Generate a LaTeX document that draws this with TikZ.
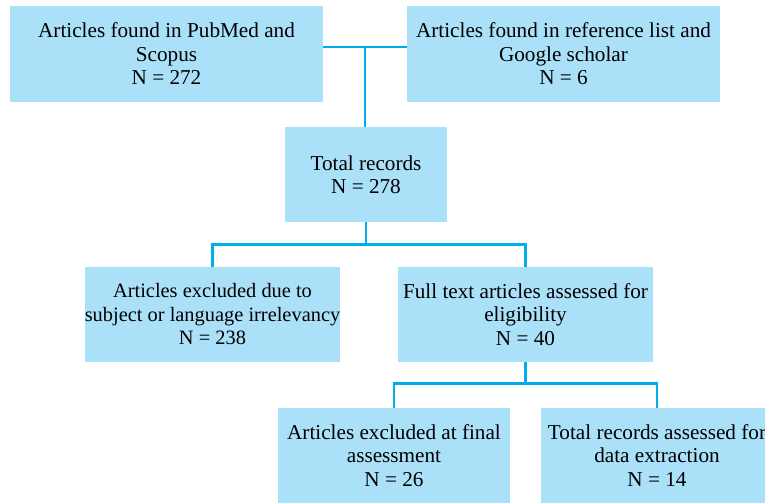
\documentclass[tikz,border=0pt]{standalone}
\usepackage{fontspec}
\setmainfont{Liberation Serif}
\usepackage{xcolor}
\usepackage{tikz}
\definecolor{boxblue}{RGB}{171,224,249}
\definecolor{lineblue}{RGB}{0,174,239}

\begin{document}
\begin{tikzpicture}[x=1pt, y=-1pt]
    \tikzstyle{record} = [rectangle, inner sep=0pt, text centered, align=center, fill=boxblue, minimum height=95pt, font=\fontsize{21.2}{23.5}\selectfont]
    \tikzstyle{link} = [draw=lineblue, line width=2.6pt]
    \useasboundingbox (0,0) rectangle (765,503);

    % Search sources
    \node [record, minimum width=313pt] (pubmed) at (166.5,54) {Articles found in PubMed and\\Scopus\\N = 272};
    \node [record, minimum width=313pt] (refs) at (563.5,54) {Articles found in reference list and\\Google scholar\\N = 6};

    % Pooled records
    \node [record, minimum width=162pt] (total) at (366,174.5) {Total records\\N = 278};

    % Screening
    \node [record, minimum width=255pt, font=\fontsize{20.4}{23.5}\selectfont] (excluded) at (212.5,314.5) {Articles excluded due to\\subject or language irrelevancy\\N = 238};
    \node [record, minimum width=255pt] (fulltext) at (525.5,314.5) {Full text articles assessed for\\eligibility\\N = 40};

    % Final assessment
    \node [record, minimum width=232pt] (final_excl) at (394,455.5) {Articles excluded at final\\assessment\\N = 26};
    \node [record, minimum width=232pt] (extraction) at (657,455.5) {Total records assessed for\\data extraction\\N = 14};

    % Lines
    \coordinate (join) at (365,47);
    \draw [link] ([yshift=7pt]pubmed.east) -- ([yshift=7pt]refs.west);
    \draw [link] (join) -- (join |- total.north);
    \draw [link] (total.south) -- ++(0,22) coordinate (split);
    \draw [link] (excluded.north) |- (split) -| (fulltext.north);
    \draw [link] (fulltext.south) -- ++(0,21) coordinate (split2);
    \draw [link] (final_excl.north) |- (split2) -| (extraction.north);
\end{tikzpicture}
\end{document}
